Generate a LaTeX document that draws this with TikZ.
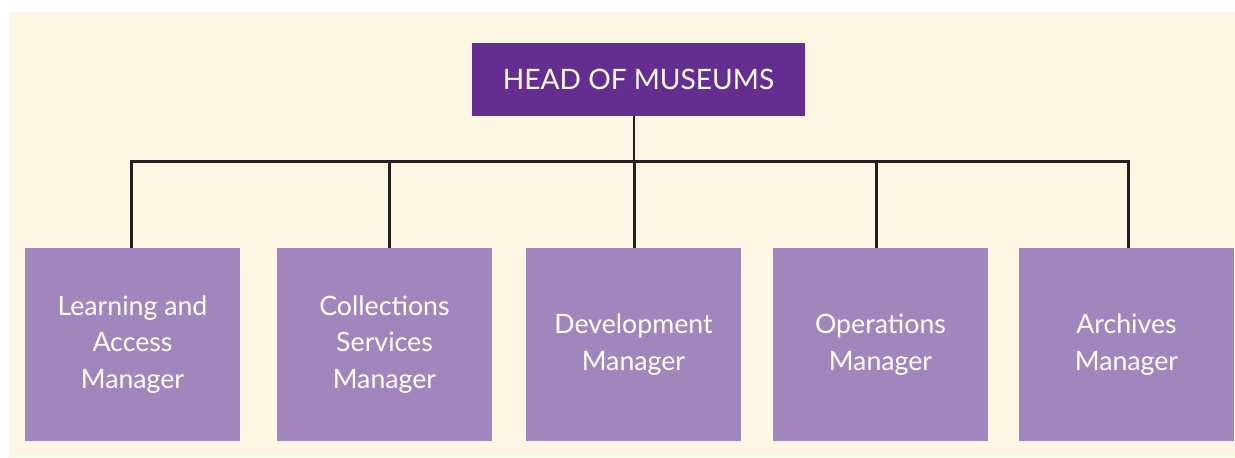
\documentclass[tikz,border=0pt]{standalone}
\usepackage{fontspec}
\setmainfont{Lato}
\definecolor{museumbg}{HTML}{FEF6E4}
\definecolor{headpurple}{HTML}{662D91}
\definecolor{unitpurple}{HTML}{A186BE}
\definecolor{linkgray}{HTML}{231F20}
\begin{document}
\begin{tikzpicture}[x=0.02cm, y=-0.02cm]
  \tikzset{head/.style={fill=headpurple, text=white, minimum width=6.66cm, minimum height=1.46cm,
                        font=\fontsize{16}{19}\selectfont},
           unit/.style={fill=unitpurple, text=white, align=center, minimum width=4.3cm, minimum height=3.86cm,
                        font=\fontsize{15.2}{21}\selectfont},
           link/.style={draw=linkgray, line width=1.5pt}}
  \useasboundingbox (0,0) rectangle (1235,457);
  \fill[museumbg] (9,12) rectangle (1235,457);
  \node[head] (head) at (638.5,79.5) {HEAD OF MUSEUMS};
  \node[unit] (learning)    at (132.5,344.5)  {Learning and\\Access\\Manager};
  \node[unit] (collections) at (384.5,344.5)  {Collections\\Services\\Manager};
  \node[unit] (development) at (633.5,344.5)  {Development\\Manager};
  \node[unit] (operations)  at (880.5,344.5)  {Operations\\Manager};
  \node[unit] (archives)    at (1126.5,344.5) {Archives\\Manager};
  \coordinate (bus) at (634,161.5);
  \coordinate (lt) at ([xshift=-0.02cm]learning.north);
  \coordinate (at) at ([xshift=0.04cm]archives.north);
  \draw[link] (bus |- head.south) -- (bus);
  \draw[link] (lt) -- (lt |- bus) -- (at |- bus) -- (at);
  \foreach \b/\dx in {collections/5, development/1, operations/-4}
    \draw[link] ([xshift=\dx*0.02cm]\b.north) -- ([xshift=\dx*0.02cm]\b.north |- bus);
\end{tikzpicture}
\end{document}
